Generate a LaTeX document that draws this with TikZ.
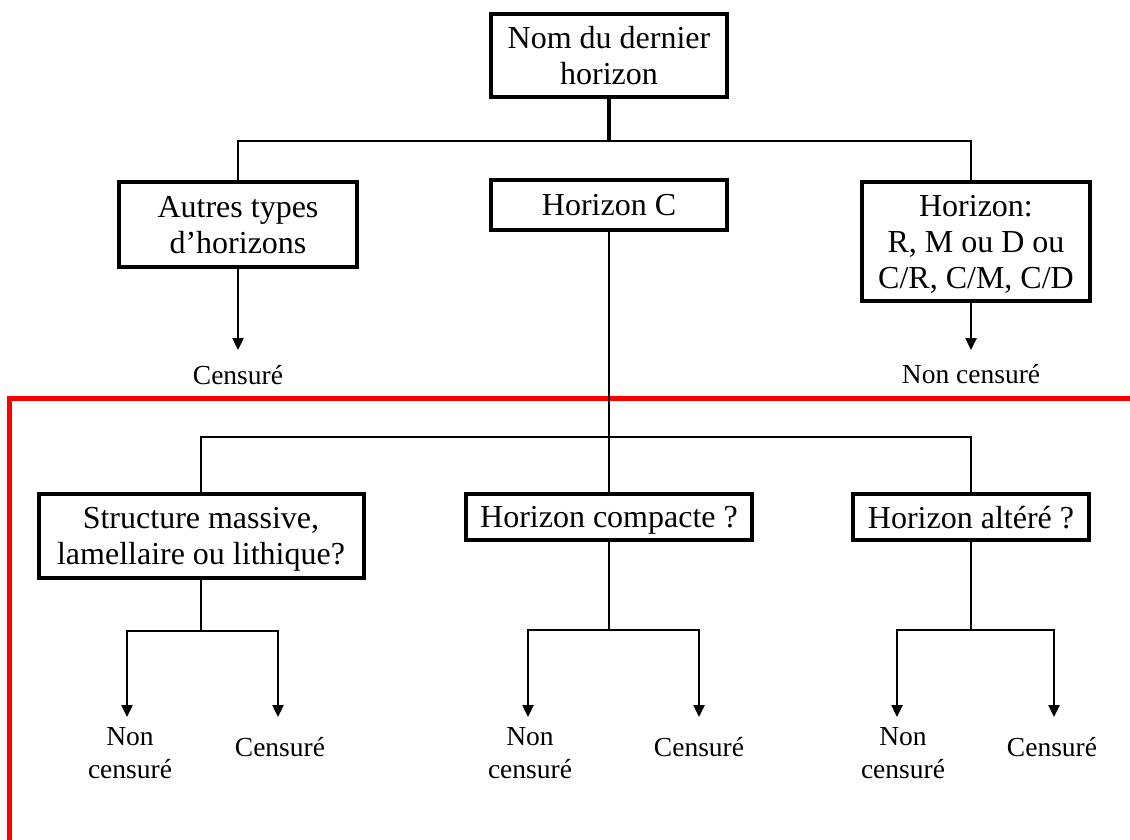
\documentclass[tikz,border=0pt]{standalone}
\usepackage{fontspec}
\setmainfont{Liberation Serif}
\usetikzlibrary{arrows.meta}
\begin{document}
\begin{tikzpicture}[x=1pt, y=-1pt,
        boite/.style={draw, line width=4pt, inner sep=0pt, text depth=0pt, align=center, font=\fontsize{32}{36}\selectfont},
        lien/.style={line width=2.4pt},
        fleche/.style={line width=2.4pt, -{Triangle[length=12pt,width=11pt]}},
        etiq/.style={inner sep=0pt, align=center, font=\fontsize{27.5}{33}\selectfont}]
    \useasboundingbox (0,0) rectangle (1130,839);
    % boxes
    \node[boite, minimum width=236, minimum height=83] (nom) at (609,55.5) {Nom du dernier\\horizon};
    \node[boite, minimum width=238, minimum height=85] (autres) at (238,224.5) {Autres types\\d'horizons};
    \node[boite, minimum width=236, minimum height=50] (horC) at (609,205) {Horizon C};
    \node[boite, minimum width=228, minimum height=119] (droite) at (976,241.5) {Horizon:\\R, M ou D ou\\C/R, C/M, C/D};
    \node[boite, minimum width=325, minimum height=84] (struct) at (201,536) {Structure massive,\\lamellaire ou lithique?};
    \node[boite, minimum width=286, minimum height=46] (compacte) at (609,517) {Horizon compacte ?};
    \node[boite, minimum width=236, minimum height=46] (altere) at (971,517) {Horizon altéré ?};
    % junctions and arrow tips
    \coordinate (j1) at (609,141);
    \coordinate (j2) at (609,437);
    \coordinate (j3) at (201,631);
    \coordinate (j4) at (609,630);
    \coordinate (j5) at (971,630);
    \coordinate (t0) at (238,350);
    \coordinate (t00) at (971,350);
    \coordinate (t1) at (127,717);
    \coordinate (t2) at (278,717);
    \coordinate (t3) at (528,717);
    \coordinate (t4) at (699,717);
    \coordinate (t5) at (897,717);
    \coordinate (t6) at (1054,717);
    % red frame
    \draw[red, line width=5pt] (9.5,850) -- (9.5,398.5) -- (1140,398.5);
    % connectors
    \draw[lien, line width=3.5pt] (nom.south) -- (j1);
    \draw[lien] (autres.north) |- (j1) -| ([xshift=-5pt]droite.north);
    \draw[lien] (horC.south) -- (j2);
    \draw[lien] (struct.north) |- (j2) -| (altere.north);
    \draw[lien] (j2) -- (compacte.north);
    \draw[fleche] (autres.south) -- (t0);
    \draw[fleche] ([xshift=-5pt]droite.south) -- (t00);
    \draw[lien] (struct.south) -- (j3);
    \draw[fleche] (j3) -| (t1);
    \draw[fleche] (j3) -| (t2);
    \draw[lien] (compacte.south) -- (j4);
    \draw[fleche] (j4) -| (t3);
    \draw[fleche] (j4) -| (t4);
    \draw[lien] (altere.south) -- (j5);
    \draw[fleche] (j5) -| (t5);
    \draw[fleche] (j5) -| (t6);
    % labels
    \node[etiq, anchor=base] (c0) at (238,384) {Censuré};
    \node[etiq, anchor=base] (n0) at (971,383) {Non censuré};
    \node[etiq] (n1) at (130,753) {Non\\censuré};
    \node[etiq, anchor=base] (c1) at (280,756) {Censuré};
    \node[etiq] (n2) at (530,753) {Non\\censuré};
    \node[etiq, anchor=base] (c2) at (699,756) {Censuré};
    \node[etiq] (n3) at (903,753) {Non\\censuré};
    \node[etiq, anchor=base] (c3) at (1052,756) {Censuré};
\end{tikzpicture}
\end{document}
